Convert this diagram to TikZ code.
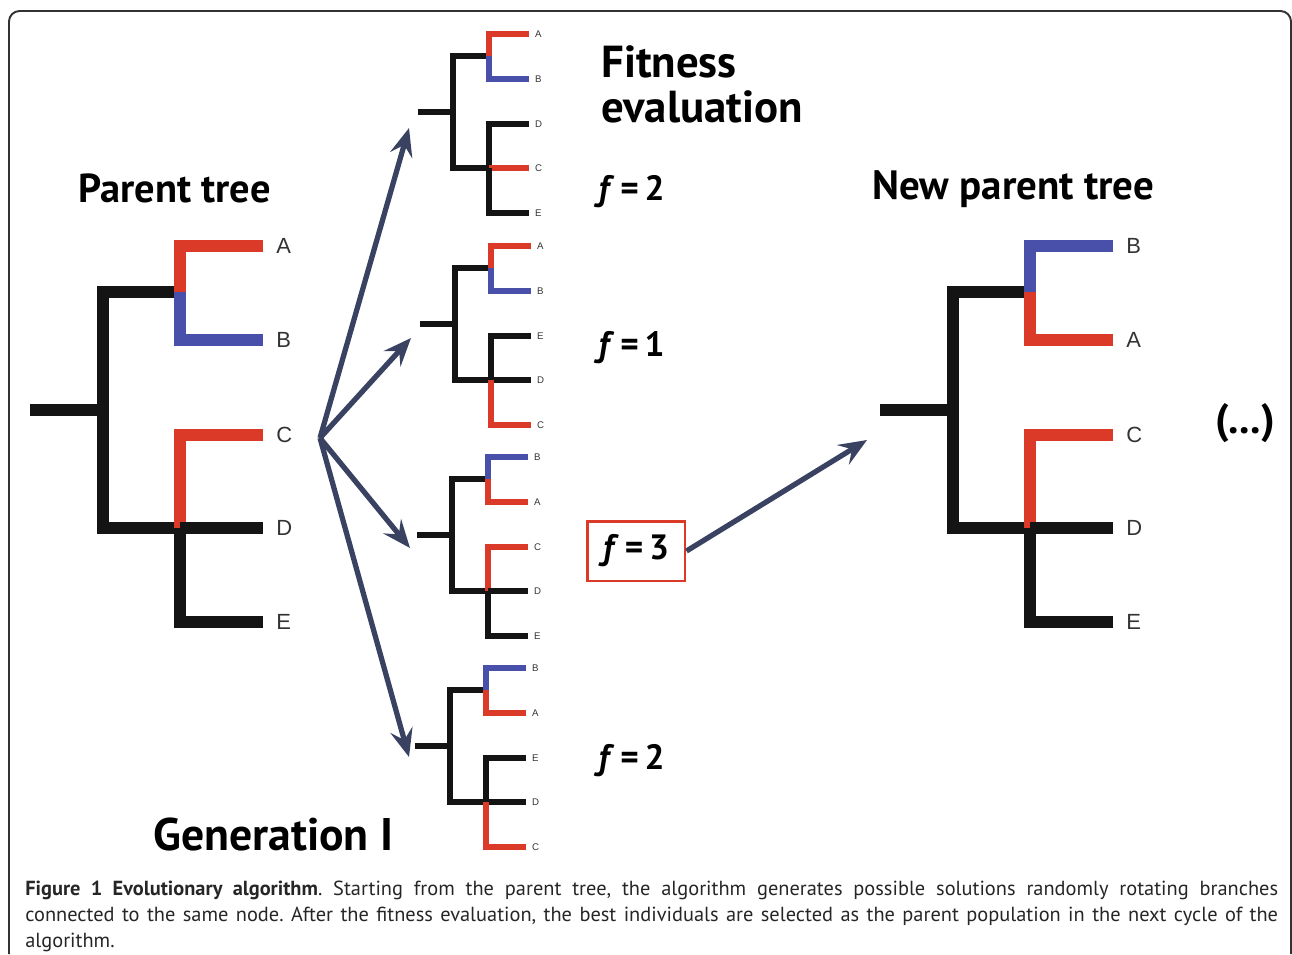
\documentclass[tikz,border=0pt]{standalone}
\usepackage{fontspec}
\setmainfont{PT Sans}
\newfontfamily\leaffont{Liberation Sans}
\usepackage{xcolor}
\usepackage{tikz}
\usetikzlibrary{arrows.meta, positioning, calc}

\definecolor{tred}{RGB}{219,58,40}
\definecolor{tblue}{RGB}{72,80,170}
\definecolor{tblack}{RGB}{20,20,20}
\definecolor{arrowc}{RGB}{58,66,98}
\definecolor{framec}{RGB}{50,50,50}

% #1 name, #2-#6 leaf colours from the top, #7 leaf labels
\newcommand{\phylo}[7]{
  \draw[branch] (0,0) -- (78,0);
  \draw[branch] (150,-118) -- (73,-118) -- (73,118) -- (150,118);
  \draw[branch,#2] (233,-164) -- (150,-164) -- (150,-118);
  \draw[branch,#3] (233,-70) -- (150,-70) -- (150,-118);
  \draw[branch,#4] (233,25) -- (150,25) -- (150,118);
  \draw[branch,#5] (150,118) -- (233,118);
  \draw[branch,#6] (233,212) -- (150,212) -- (150,118);
  \foreach \lab [count=\i] in {#7} {
    \pgfmathsetmacro{\yy}{{-164,-70,25,118,212}[\i-1]}
    \node[leaf] (#1-\i) at (246,\yy) {\lab};
  }
}

\begin{document}
\frenchspacing
\begin{tikzpicture}[x=0.02cm, y=-0.02cm,
    branch/.style={tblack, line cap=butt, line join=miter},
    leaf/.style={anchor=west, inner sep=0pt, text=black!80},
    big/.style={branch/.append style={line width=6.8pt},
      leaf/.append style={font=\leaffont\fontsize{12.5}{14}\selectfont}},
    small/.style={scale=0.475, branch/.append style={line width=3.3pt},
      leaf/.append style={font=\leaffont\fontsize{5.5}{6}\selectfont}},
    evo/.style={draw=arrowc, line width=3pt, -{Stealth[length=16pt,width=13pt,inset=6pt]}},
    title/.style={anchor=base west, inner sep=0pt, font=\bfseries\fontsize{23}{27}\selectfont},
    fitval/.style={anchor=base west, inner sep=0pt, font=\bfseries\fontsize{20}{24}\selectfont}]

  \useasboundingbox (0,0) rectangle (1292,954);
  \draw[framec, line width=1.1pt, rounded corners=6pt] (9,954) -- (9,11) -- (1291,11) -- (1291,954);

  % parent tree
  \begin{scope}[shift={(30,410)}, big]
    \phylo{par}{tred}{tblue}{tred}{tblack}{tblack}{A,B,C,D,E}
  \end{scope}

  % offspring
  \begin{scope}[shift={(418,112)}, small]
    \phylo{off1}{tred}{tblue}{tblack}{tred}{tblack}{A,B,D,C,E}
  \end{scope}
  \begin{scope}[shift={(420,324)}, small]
    \phylo{off2}{tred}{tblue}{tblack}{tblack}{tred}{A,B,E,D,C}
  \end{scope}
  \begin{scope}[shift={(417,535)}, small]
    \phylo{off3}{tblue}{tred}{tred}{tblack}{tblack}{B,A,C,D,E}
  \end{scope}
  \begin{scope}[shift={(415,746)}, small]
    \phylo{off4}{tblue}{tred}{tblack}{tblack}{tred}{B,A,E,D,C}
  \end{scope}

  % new parent tree
  \begin{scope}[shift={(880,410)}, big]
    \phylo{new}{tblue}{tred}{tred}{tblack}{tblack}{B,A,C,D,E}
  \end{scope}

  \node[title] (partitle) at (78,202) {Parent tree};
  \node[title, font=\bfseries\fontsize{23.3}{27}\selectfont] (newtitle) at (872,199) {New parent tree};
  \node[title, font=\bfseries\fontsize{25.5}{30}\selectfont] (fit1) at (601,77) {Fitness};
  \node[title, font=\bfseries\fontsize{25.5}{30}\selectfont] (fit2) at (601,122) {evaluation};
  \node[title, font=\bfseries\fontsize{26}{30}\selectfont] (gen) at (153,850) {Generation I};
  \node[font=\bfseries\fontsize{24}{28}\selectfont] (etc) at (1245,423) {(...)};

  \node[fitval] (f1) at (598,200) {\textit{f}\,=\,2};
  \node[fitval] (f2) at (598,356) {\textit{f}\,=\,1};
  \node[fitval] (f4) at (598,769) {\textit{f}\,=\,2};
  \node[draw=tred, line width=1.7pt, minimum width=1.96cm, minimum height=1.2cm,
    inner sep=0pt, font=\bfseries\fontsize{20}{24}\selectfont] (f3) at (636,551) {\textit{f}\,=\,3};

  \coordinate (hub) at (320,438);
  \coordinate (a1) at (409,128);
  \coordinate (a2) at (411,338);
  \coordinate (a3) at (410,548);
  \coordinate (a4) at (409,757);
  \coordinate (sel) at (867,440);
  \foreach \t in {a1,a2,a3,a4}
    \draw[evo] (hub) -- (\t);
  \draw[evo] (f3.east) -- (sel);

  \node[anchor=north west, inner sep=0pt, text width=25.06cm, align=justify,
    font=\fontsize{11.6}{14.7}\selectfont, text=black!85] (cap) at (25,881)
    {\textbf{Figure 1 Evolutionary algorithm}. Starting from the parent tree, the algorithm generates possible solutions randomly rotating branches\linebreak
    connected to the same node. After the fitness evaluation, the best individuals are selected as the parent population in the next cycle of the\linebreak
    algorithm.};
\end{tikzpicture}
\end{document}
